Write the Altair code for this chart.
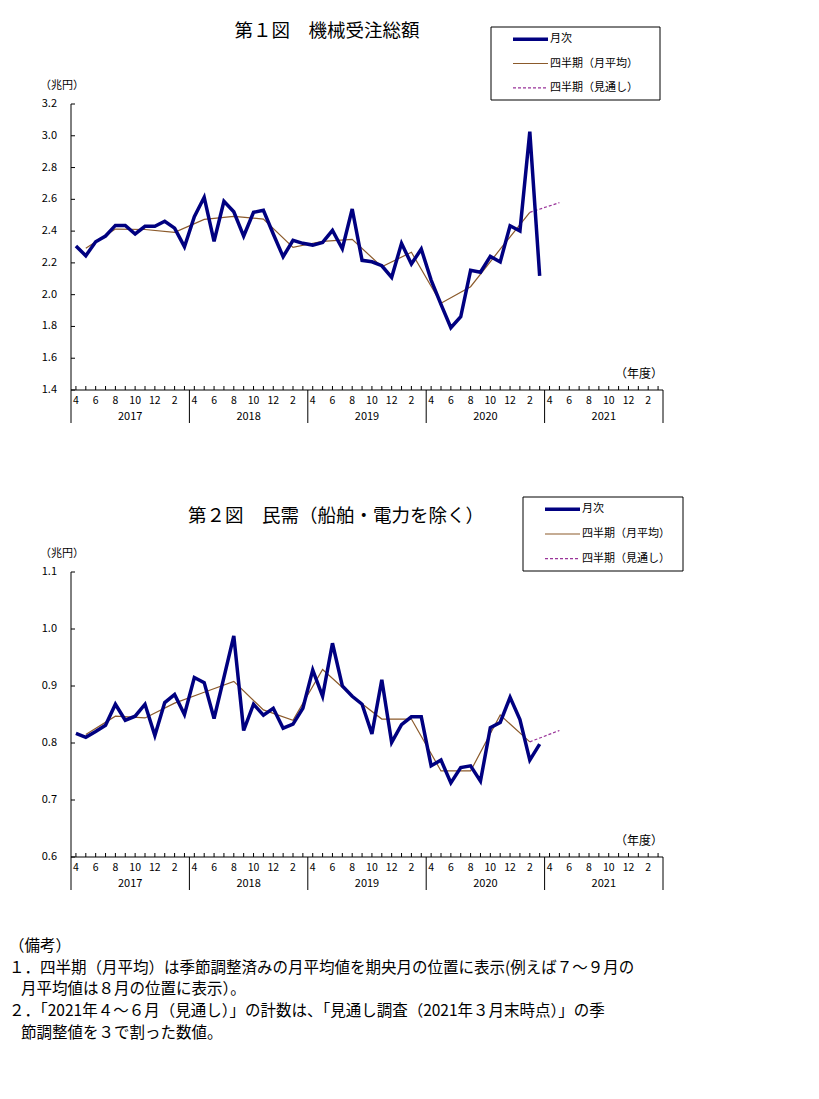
import altair as alt
import pandas as pd

# ---------------- data ----------------
MONTH_LABELS = ["4", "6", "8", "10", "12", "2"]
FISCAL_YEARS = ["2017", "2018", "2019", "2020", "2021"]

# 第1図 機械受注総額 (兆円), monthly Apr-2017 .. Mar-2021
p1_monthly = [
    2.306, 2.245, 2.333, 2.369, 2.436, 2.436, 2.382, 2.430, 2.430, 2.462, 2.419, 2.302,
    2.491, 2.613, 2.336, 2.588, 2.522, 2.369, 2.518, 2.531, 2.382, 2.239, 2.342, 2.323,
    2.312, 2.329, 2.405, 2.289, 2.539, 2.216, 2.207, 2.182, 2.109, 2.323, 2.193, 2.287,
    2.092, 1.939, 1.792, 1.861, 2.153, 2.141, 2.241, 2.206, 2.434, 2.401, 3.026, 2.119,
]
# quarterly monthly average, plotted at the middle month (May, Aug, Nov, Feb)
p1_quarterly = [2.292, 2.413, 2.410, 2.392, 2.474, 2.493, 2.476, 2.298,
                2.336, 2.348, 2.176, 2.267, 1.946, 2.050, 2.286, 2.518]
p1_outlook = [2.579]  # Apr-Jun 2021 outlook (plotted at May 2021)
p1_ticks = [1.4, 1.6, 1.8, 2.0, 2.2, 2.4, 2.6, 2.8, 3.0, 3.2]

# 第2図 民需（船舶・電力を除く） (兆円)
p2_monthly = [
    0.817, 0.810, 0.820, 0.831, 0.868, 0.840, 0.847, 0.868, 0.813, 0.871, 0.885, 0.850,
    0.915, 0.906, 0.843, 0.915, 0.988, 0.822, 0.868, 0.849, 0.861, 0.826, 0.833, 0.861,
    0.928, 0.882, 0.975, 0.900, 0.882, 0.868, 0.816, 0.911, 0.801, 0.832, 0.846, 0.846,
    0.760, 0.770, 0.730, 0.757, 0.760, 0.733, 0.827, 0.836, 0.880, 0.841, 0.770, 0.798,
]
p2_quarterly = [0.815, 0.847, 0.844, 0.870, 0.889, 0.908, 0.858, 0.840,
                0.929, 0.882, 0.842, 0.842, 0.751, 0.751, 0.849, 0.802]
p2_outlook = [0.822]
p2_ticks = [0.6, 0.7, 0.8, 0.9, 1.0, 1.1]

LEGEND_LABELS = ["月次", "四半期（月平均）", "四半期（見通し）"]
TITLE1 = "第１図　機械受注総額"
TITLE2 = "第２図　民需（船舶・電力を除く）"
UNIT = "（兆円）"
XUNIT = "（年度）"
NOTES = [
    "（備考）",
    "１．四半期（月平均）は季節調整済みの月平均値を期央月の位置に表示(例えば７～９月の",
    "月平均値は８月の位置に表示）。",
    "２．「2021年４～６月（見通し）」の計数は、「見通し調査（2021年３月末時点）」の季",
    "節調整値を３で割った数値。",
]
NOTE_INDENT = [False, False, True, False, True]

# ---------------- layout ----------------
W, H = 803, 1060
FONT = "Noto Sans CJK JP"
NAVY = "#000080"
BROWN = "#8B5A2B"
PURPLE = "#993399"

N_MONTHS = 60
T0, T1 = -0.5, N_MONTHS - 0.5
X0, X1 = 63, 655  # pixel positions of the plot's left/right edges
kx = (X1 - X0) / (T1 - T0)
xa = T0 - X0 / kx
xs = alt.Scale(domain=[xa, xa + W / kx], nice=False, zero=False)


def yscale(v0, v1, p0, p1):
    k = (p0 - p1) / (v1 - v0)
    c = v0 - (H - p0) / k
    return alt.Scale(domain=[c, c + H / k], nice=False, zero=False)


def XF(f):
    return alt.X(f, type="quantitative", scale=xs, axis=None)


def panel(monthly, quarterly, outlook, ticks, p_bottom, p_top, title, title_xy, legend_box):
    vmin, vmax = ticks[0], ticks[-1]
    ys = yscale(vmin, vmax, p_bottom, p_top)

    def YF(f):
        return alt.Y(f, type="quantitative", scale=ys, axis=None)

    layers = []
    dm = pd.DataFrame({"t": list(range(len(monthly))), "v": monthly})
    q_t = [1 + 3 * i for i in range(len(quarterly))]
    dq = pd.DataFrame({"t": q_t, "v": quarterly})
    do = pd.DataFrame({"t": [q_t[-1], q_t[-1] + 3], "v": [quarterly[-1]] + outlook})

    # axes frame
    layers.append(alt.Chart(pd.DataFrame({"t": [T0], "a": [vmin], "b": [vmax]}))
                  .mark_rule(color="black", strokeWidth=1)
                  .encode(x=XF("t"), y=YF("a"), y2="b"))
    layers.append(alt.Chart(pd.DataFrame({"t": [T0], "t2": [T1], "v": [vmin]}))
                  .mark_rule(color="black", strokeWidth=1)
                  .encode(x=XF("t"), x2="t2", y=YF("v")))
    # y ticks (inward)
    layers.append(alt.Chart(pd.DataFrame({"t": [T0] * len(ticks), "v": ticks}))
                  .mark_rule(color="black", strokeWidth=1, x2Offset=4)
                  .encode(x=XF("t"), x2="t", y=YF("v")))
    # x ticks (inward) at every month
    layers.append(alt.Chart(pd.DataFrame({"t": list(range(N_MONTHS)), "v": [vmin] * N_MONTHS}))
                  .mark_rule(color="black", strokeWidth=1, y2Offset=-4)
                  .encode(x=XF("t"), y=YF("v"), y2="v"))
    # fiscal-year separators below axis
    seps = [T0 + 12 * i for i in range(len(FISCAL_YEARS) + 1)]
    layers.append(alt.Chart(pd.DataFrame({"t": seps, "v": [vmin] * len(seps)}))
                  .mark_rule(color="black", strokeWidth=1, y2Offset=33)
                  .encode(x=XF("t"), y=YF("v"), y2="v"))
    # y tick labels
    layers.append(alt.Chart(pd.DataFrame({"t": [T0] * len(ticks), "v": ticks}))
                  .mark_text(font=FONT, fontSize=11, align="right", baseline="middle", dx=-14, color="black")
                  .encode(x=XF("t"), y=YF("v"), text=alt.Text("v:Q", format=".1f")))
    # month labels
    mt = list(range(0, N_MONTHS, 2))
    ml = [MONTH_LABELS[i % 6] for i in range(len(mt))]
    layers.append(alt.Chart(pd.DataFrame({"t": mt, "v": [vmin] * len(mt), "s": ml}))
                  .mark_text(font=FONT, fontSize=10.5, align="center", baseline="middle", dy=11, color="black")
                  .encode(x=XF("t"), y=YF("v"), text="s:N"))
    # fiscal-year labels
    yt = [5.5 + 12 * i for i in range(len(FISCAL_YEARS))]
    layers.append(alt.Chart(pd.DataFrame({"t": yt, "v": [vmin] * len(yt), "s": FISCAL_YEARS}))
                  .mark_text(font=FONT, fontSize=11, align="center", baseline="middle", dy=27, color="black")
                  .encode(x=XF("t"), y=YF("v"), text="s:N"))
    # unit labels
    layers.append(alt.Chart(pd.DataFrame({"t": [T0], "v": [vmax], "s": [UNIT]}))
                  .mark_text(font=FONT, fontSize=11, align="center", baseline="middle", dx=-9, dy=-18, color="black")
                  .encode(x=XF("t"), y=YF("v"), text="s:N"))
    layers.append(alt.Chart(pd.DataFrame({"t": [T1], "v": [vmin], "s": [XUNIT]}))
                  .mark_text(font=FONT, fontSize=12, align="right", baseline="middle", dy=-16, color="black")
                  .encode(x=XF("t"), y=YF("v"), text="s:N"))

    # data lines
    layers.append(alt.Chart(dq).mark_line(color=BROWN, strokeWidth=1.2)
                  .encode(x=XF("t"), y=YF("v")))
    layers.append(alt.Chart(do).mark_line(color=PURPLE, strokeWidth=1.2, strokeDash=[3, 2])
                  .encode(x=XF("t"), y=YF("v")))
    layers.append(alt.Chart(dm).mark_line(color=NAVY, strokeWidth=3.5)
                  .encode(x=XF("t"), y=YF("v")))

    # title
    layers.append(alt.Chart(pd.DataFrame({"s": [title]}))
                  .mark_text(font=FONT, fontSize=18.5, align="center", baseline="middle", color="black")
                  .encode(x=alt.value(title_xy[0]), y=alt.value(title_xy[1]), text="s:N"))

    # legend box
    bx0, by0, bx1, by1 = legend_box
    layers.append(alt.Chart(pd.DataFrame({"s": ["box"]}))
                  .mark_rect(fill="white", stroke="black", strokeWidth=1)
                  .encode(x=alt.value(bx0), x2=alt.value(bx1), y=alt.value(by0), y2=alt.value(by1)))
    styles = [(NAVY, 3.5, None), (BROWN, 1.2, None), (PURPLE, 1.2, [3, 2])]
    step = (by1 - by0) / 3.0
    for i, (lab, (col, sw, dash)) in enumerate(zip(LEGEND_LABELS, styles)):
        yy = by0 + step * (i + 0.5)
        kw = dict(color=col, strokeWidth=sw)
        if dash:
            kw["strokeDash"] = dash
        layers.append(alt.Chart(pd.DataFrame({"s": [lab]})).mark_rule(**kw)
                      .encode(x=alt.value(bx0 + 22), x2=alt.value(bx0 + 57), y=alt.value(yy)))
        layers.append(alt.Chart(pd.DataFrame({"s": [lab]}))
                      .mark_text(font=FONT, fontSize=11, align="left", baseline="middle", color="black")
                      .encode(x=alt.value(bx0 + 59), y=alt.value(yy), text="s:N"))
    return layers


layers = []
layers += panel(p1_monthly, p1_quarterly, p1_outlook, p1_ticks, 382, 96,
                TITLE1, (319, 23), (483, 19, 652, 92))
layers += panel(p2_monthly, p2_quarterly, p2_outlook, p2_ticks, 849, 564,
                TITLE2, (328, 508), (515, 489, 675, 563))

note_y = [938, 960, 981, 1003, 1025]
for s, yy, ind in zip(NOTES, note_y, NOTE_INDENT):
    layers.append(alt.Chart(pd.DataFrame({"s": [s]}))
                  .mark_text(font=FONT, fontSize=15.5, align="left", baseline="middle", color="black")
                  .encode(x=alt.value(13 if ind else 1), y=alt.value(yy), text="s:N"))

chart = (alt.layer(*layers)
         .resolve_scale(y="independent")
         .properties(width=W, height=H, autosize=alt.AutoSizeParams(type="none"), padding=0,
                     background="white")
         .configure_view(stroke=None))

chart.save("out.html", embed_options={"renderer": "svg", "actions": False})
